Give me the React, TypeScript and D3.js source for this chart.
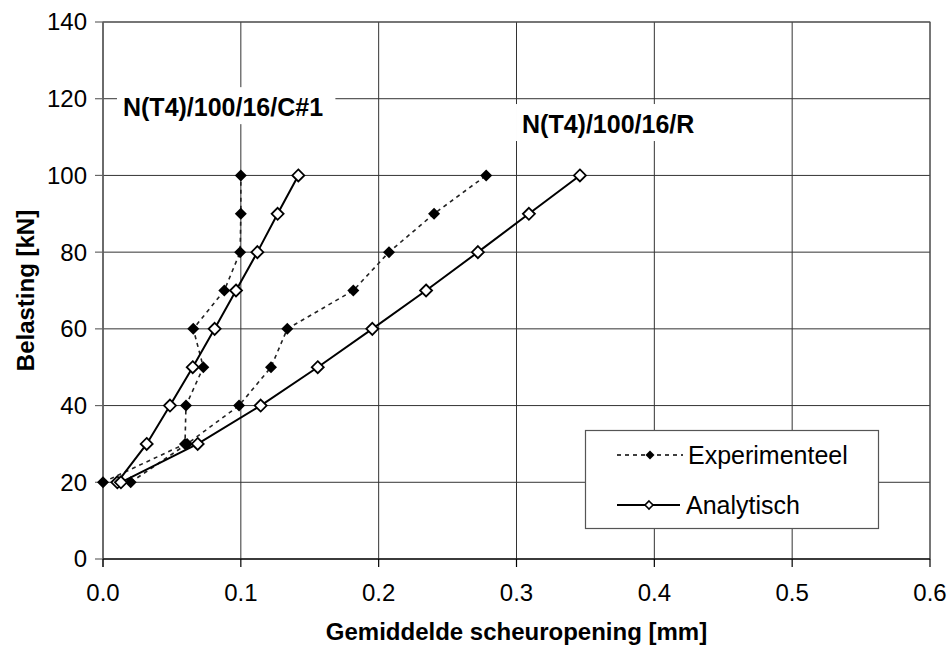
import React from "react";
import * as d3 from "d3";

const loads = [20, 30, 40, 50, 60, 70, 80, 90, 100];
const expC1 = [0.0, 0.0595, 0.0602, 0.0728, 0.0655, 0.088, 0.0995, 0.1, 0.1];
const anaC1 = [0.0104, 0.0317, 0.0486, 0.0651, 0.081, 0.0965, 0.112, 0.1267, 0.1417];
const expR = [0.0201, 0.061, 0.0987, 0.1219, 0.1337, 0.1816, 0.2075, 0.2402, 0.278];
const anaR = [0.013, 0.0687, 0.1144, 0.1558, 0.1954, 0.2344, 0.272, 0.309, 0.346];

const xTicks = [0, 0.1, 0.2, 0.3, 0.4, 0.5, 0.6];
const yTicks = [0, 20, 40, 60, 80, 100, 120, 140];

const seriesLabels = ["Experimenteel", "Analytisch"];
const annotations = [
  { text: "N(T4)/100/16/C#1", x: 0.0145, y: 117.8 },
  { text: "N(T4)/100/16/R", x: 0.304, y: 113.4 },
];

const W = 951;
const H = 650;
const left = 103;
const right = 930;
const top = 22;
const bottom = 559;
const FONT = "'Liberation Sans', Arial, sans-serif";

export default function App() {
  const x = d3.scaleLinear().domain([0, 0.6]).range([left, right]);
  const y = d3.scaleLinear().domain([0, 140]).range([bottom, top]);
  const line = d3
    .line<[number, number]>()
    .x((d) => x(d[0]))
    .y((d) => y(d[1]));
  const pts = (xs: number[]) => xs.map((v, i) => [v, loads[i]] as [number, number]);
  const fmt = d3.format(".1f");

  const diamond = (cx: number, cy: number, r: number) =>
    `M${cx},${cy - r}L${cx + r},${cy}L${cx},${cy + r}L${cx - r},${cy}Z`;

  const expSeries = [expC1, expR];
  const anaSeries = [anaC1, anaR];

  return (
    <svg
      width={W}
      height={H}
      style={{ position: "absolute", left: 0, top: 0, background: "#fff" }}
      fontFamily={FONT}
    >
      <rect x={0} y={0} width={W} height={H} fill="#fff" />
      {/* gridlines */}
      {yTicks.map((t) => (
        <line key={"gy" + t} x1={left} x2={right} y1={y(t)} y2={y(t)} stroke="#333" strokeWidth={1} />
      ))}
      {xTicks.map((t) => (
        <line key={"gx" + t} x1={x(t)} x2={x(t)} y1={top} y2={bottom} stroke="#333" strokeWidth={1} />
      ))}
      <rect x={left} y={top} width={right - left} height={bottom - top} fill="none" stroke="#555" strokeWidth={1} />
      {/* axes */}
      <line x1={left} x2={left} y1={top} y2={bottom + 8} stroke="#666" strokeWidth={1.2} />
      <line x1={left} x2={right} y1={bottom} y2={bottom} stroke="#000" strokeWidth={1.2} />
      {yTicks.map((t) => (
        <g key={"ty" + t}>
          <line x1={left - 8} x2={left} y1={y(t)} y2={y(t)} stroke="#666" strokeWidth={1.2} />
          <text x={left - 16} y={y(t)} dy="0.35em" textAnchor="end" fontSize={24} fill="#000">
            {t}
          </text>
        </g>
      ))}
      {xTicks.map((t) => (
        <g key={"tx" + t}>
          <line x1={x(t)} x2={x(t)} y1={bottom} y2={bottom + 8} stroke="#000" strokeWidth={1.2} />
          <text x={x(t)} y={bottom + 42} textAnchor="middle" fontSize={24} fill="#000">
            {fmt(t)}
          </text>
        </g>
      ))}
      <text x={(left + right) / 2} y={640} textAnchor="middle" fontSize={24} fontWeight="bold">
        Gemiddelde scheuropening [mm]
      </text>
      <text
        transform={`translate(34,${(top + bottom) / 2}) rotate(-90)`}
        textAnchor="middle"
        fontSize={24}
        fontWeight="bold"
      >
        Belasting [kN]
      </text>

      {/* annotations */}
      {annotations.map((a) => (
        <g key={a.text}>
          <rect x={x(a.x) - 6} y={y(a.y) - 20} width={a.text.length * 12.9 + 12} height={37} fill="#fff" />
          <text x={x(a.x)} y={y(a.y) + 9} fontSize={25} fontWeight="bold">
            {a.text}
          </text>
        </g>
      ))}

      {/* experimental */}
      {expSeries.map((s, i) => (
        <g key={"e" + i}>
          <path d={line(pts(s)) || ""} fill="none" stroke="#222" strokeWidth={1.6} strokeDasharray="4,4" />
          {pts(s).map((p, j) => (
            <path key={j} d={diamond(x(p[0]), y(p[1]), 6)} fill="#000" />
          ))}
        </g>
      ))}
      {/* analytical */}
      {anaSeries.map((s, i) => (
        <g key={"a" + i}>
          <path d={line(pts(s)) || ""} fill="none" stroke="#000" strokeWidth={2} />
          {pts(s).map((p, j) => (
            <path key={j} d={diamond(x(p[0]), y(p[1]), 6)} fill="#fff" stroke="#000" strokeWidth={1.8} />
          ))}
        </g>
      ))}

      {/* legend */}
      <rect x={585.5} y={430.5} width={293} height={98} fill="#fff" stroke="#555" strokeWidth={1.2} />
      <line x1={617} x2={683} y1={455} y2={455} stroke="#000" strokeWidth={1.6} strokeDasharray="4,4" />
      <path d={diamond(650, 455, 4.5)} fill="#000" />
      <text x={688} y={455} dy="0.35em" fontSize={25}>
        {seriesLabels[0]}
      </text>
      <line x1={617} x2={680} y1={505} y2={505} stroke="#000" strokeWidth={2} />
      <path d={diamond(649, 505, 4)} fill="#fff" stroke="#000" strokeWidth={1.6} />
      <text x={686} y={505} dy="0.35em" fontSize={25}>
        {seriesLabels[1]}
      </text>
    </svg>
  );
}
